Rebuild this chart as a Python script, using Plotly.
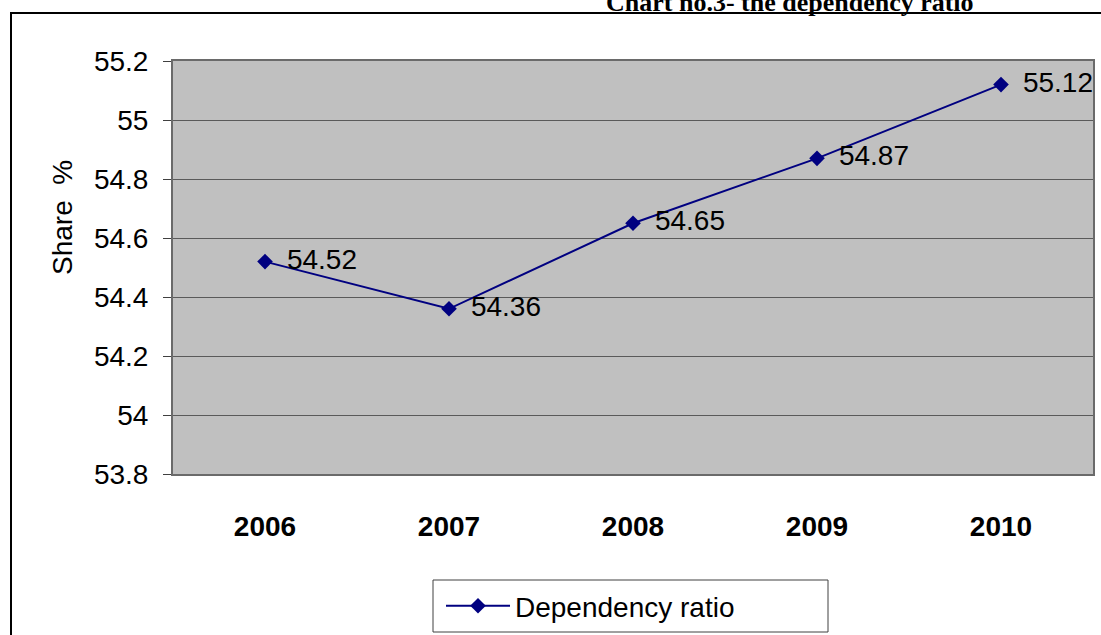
import plotly.graph_objects as go

# Dependency ratio by year (share, %)
years = ["2006", "2007", "2008", "2009", "2010"]
dependency_ratio = [54.52, 54.36, 54.65, 54.87, 55.12]
y_ticks = [53.8, 54.0, 54.2, 54.4, 54.6, 54.8, 55.0, 55.2]
y_tick_labels = ["53.8", "54", "54.2", "54.4", "54.6", "54.8", "55", "55.2"]

W, H = 1101, 635
L, R, T, B = 173, 8, 61, 161
PW, PH = W - L - R, H - T - B


def px_x(x):
    return (x - L) / PW


def px_y(y):
    return (H - B - y) / PH


NAVY = "#000080"
FONT = "Arial, Liberation Sans, sans-serif"

fig = go.Figure()
fig.add_trace(go.Scatter(
    x=years,
    y=dependency_ratio,
    mode="lines+markers+text",
    name="Dependency ratio",
    line=dict(color=NAVY, width=2),
    marker=dict(symbol="diamond", size=12, color=NAVY),
    # small leading gap between marker and its value label
    text=[f"\u00a0\u2009{v:.2f}" for v in dependency_ratio],
    textposition="middle right",
    textfont=dict(family=FONT, size=28, color="black"),
    cliponaxis=True,
))

fig.update_layout(
    width=W, height=H,
    margin=dict(l=L, r=R, t=T, b=B, autoexpand=False),
    paper_bgcolor="white",
    plot_bgcolor="#C0C0C0",
    font=dict(family=FONT, color="black"),
    showlegend=True,
    legend=dict(
        x=px_x(441), y=px_y(606), xanchor="left", yanchor="middle",
        bgcolor="rgba(0,0,0,0)", borderwidth=0,
        font=dict(family=FONT, size=28, color="black"),
        itemwidth=64,
    ),
)

fig.update_xaxes(
    type="category",
    range=[-0.5, 4.5],
    showgrid=False,
    ticks="",
    tickfont=dict(family=FONT, size=28, color="black", weight="bold"),
    ticklabelstandoff=26,
    showline=True, linecolor="#6a6a6a", linewidth=2, mirror=True,
    zeroline=False,
)

fig.update_yaxes(
    range=[53.8, 55.2],
    tickvals=y_ticks,
    ticktext=y_tick_labels,
    ticks="outside", ticklen=8, tickcolor="#404040", tickwidth=1,
    tickfont=dict(family=FONT, size=28, color="black"),
    ticklabelstandoff=9,
    showgrid=True, gridcolor="#5a5a5a", gridwidth=1,
    showline=True, linecolor="#6a6a6a", linewidth=2, mirror=True,
    zeroline=False,
)

# y-axis caption, placed in the upper half of the left margin
fig.add_annotation(
    text="Share \u00a0%",
    xref="paper", yref="paper",
    x=px_x(62), y=px_y(218), xanchor="center", yanchor="middle",
    textangle=-90, showarrow=False,
    font=dict(family=FONT, size=28, color="black"),
)

# outer frame of the chart
fig.add_shape(
    type="rect", xref="paper", yref="paper",
    x0=px_x(11), x1=px_x(1115), y0=px_y(13), y1=px_y(650),
    line=dict(color="black", width=2), fillcolor="rgba(0,0,0,0)", layer="above",
)

# legend box
fig.add_shape(
    type="rect", xref="paper", yref="paper",
    x0=px_x(433), x1=px_x(828), y0=px_y(580), y1=px_y(632),
    line=dict(color="#404040", width=1), fillcolor="rgba(0,0,0,0)",
)

# chart heading
fig.add_annotation(
    text="<b>Chart no.3- the dependency ratio</b>",
    xref="paper", yref="paper",
    x=px_x(790), y=px_y(2), xanchor="center", yanchor="middle",
    showarrow=False,
    font=dict(family="Times New Roman, Liberation Serif, serif", size=26, color="black"),
)

fig.write_html("out.html")
